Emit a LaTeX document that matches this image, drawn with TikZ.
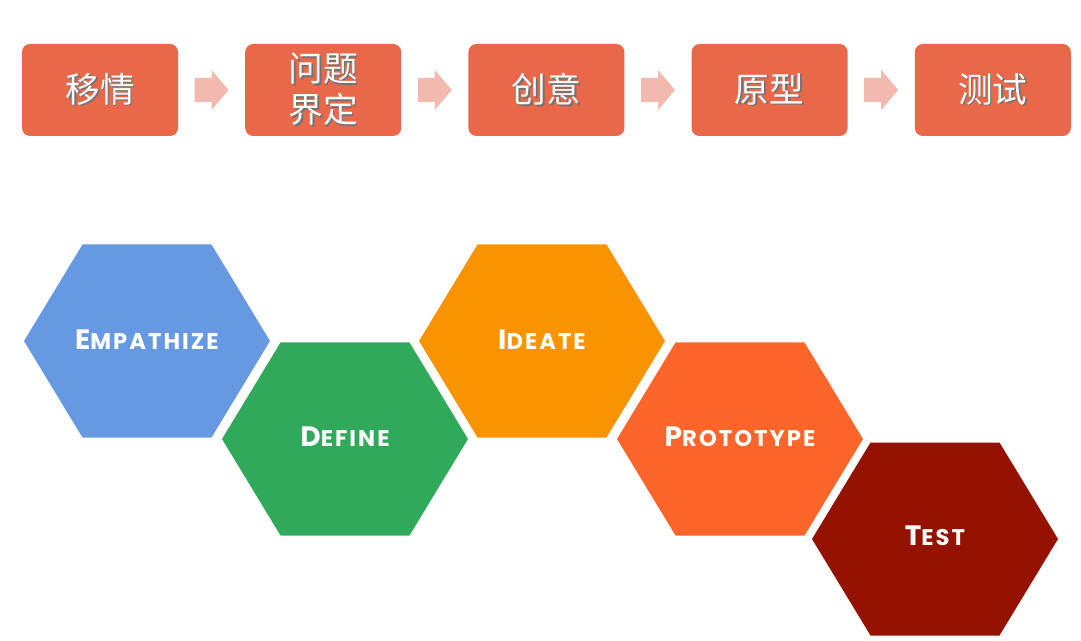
\documentclass[tikz,border=0pt]{standalone}
\usepackage{fontspec}
\usetikzlibrary{calc,positioning}
\newfontfamily\cnfont{Noto Sans CJK SC}
\newfontfamily\hexfont[LetterSpace=9]{Poppins}
\definecolor{stepbg}{HTML}{E9684A}
\definecolor{arrowpink}{HTML}{F2B9AF}
\definecolor{hexblue}{HTML}{6699E1}
\definecolor{hexgreen}{HTML}{31A95A}
\definecolor{hexorange}{HTML}{FA9300}
\definecolor{hexcoral}{HTML}{FE652A}
\definecolor{hexred}{HTML}{961200}
\newcommand{\cnshadow}[1]{\makebox[0pt][l]{\kern1.3pt\raisebox{-1.3pt}{\color{black!55}#1}}#1}
\newcommand{\hexlabel}[2]{{\fontsize{21}{21}\selectfont #1}{\fontsize{17}{17}\selectfont #2}}
\tikzset{
  stepbox/.style={fill=stepbg, rounded corners=6pt, minimum width=117pt,
                  minimum height=69pt, inner sep=0pt, text=white,
                  font=\cnfont\fontsize{26}{30}\selectfont, align=center},
  hextext/.style={text=white, font=\hexfont\bfseries, inner sep=0pt},
}
\begin{document}
\begin{tikzpicture}[x=0.75pt, y=-0.75pt]
  \useasboundingbox (0,0) rectangle (1081,641);
  % top row
  \node[stepbox] (b1) at (100,90) {\cnshadow{移情}};
  \node[stepbox, right=50pt of b1] (b2) {\cnshadow{问题}\\[1pt]\cnshadow{界定}};
  \node[stepbox, right=50pt of b2] (b3) {\cnshadow{创意}};
  \node[stepbox, right=50pt of b3] (b4) {\cnshadow{原型}};
  \node[stepbox, right=50pt of b4] (b5) {\cnshadow{测试}};
  \foreach \a/\b in {b1/b2, b2/b3, b3/b4, b4/b5}
    \fill[arrowpink] ($(\a.east)!0.5!(\b.west)$) ++(-17,-12) -- ++(17,0) -- ++(0,-8)
      -- ++(17,20) -- ++(-17,20) -- ++(0,-8) -- ++(-17,0) -- cycle;
  % hexagons
  \foreach \c/\x/\y in {hexblue/147/341, hexgreen/345/439, hexorange/542/341,
                        hexcoral/740/439, hexred/935/539}
    \fill[\c] (\x,\y) ++(-123,0) -- ++(58.5,-96.5) -- ++(129,0) -- ++(58.5,96.5)
      -- ++(-58.5,96.5) -- ++(-129,0) -- cycle;
  \node[hextext] (emp) at (147,340) {\hexlabel{E}{MPATHIZE}};
  \node[hextext] (def) at (345,437) {\hexlabel{D}{EFINE}};
  \node[hextext] (ide) at (542,340) {\hexlabel{I}{DEATE}};
  \node[hextext] (pro) at (740,437) {\hexlabel{P}{ROTOTYPE}};
  \node[hextext] (tes) at (935,536) {\hexlabel{T}{EST}};
\end{tikzpicture}
\end{document}
